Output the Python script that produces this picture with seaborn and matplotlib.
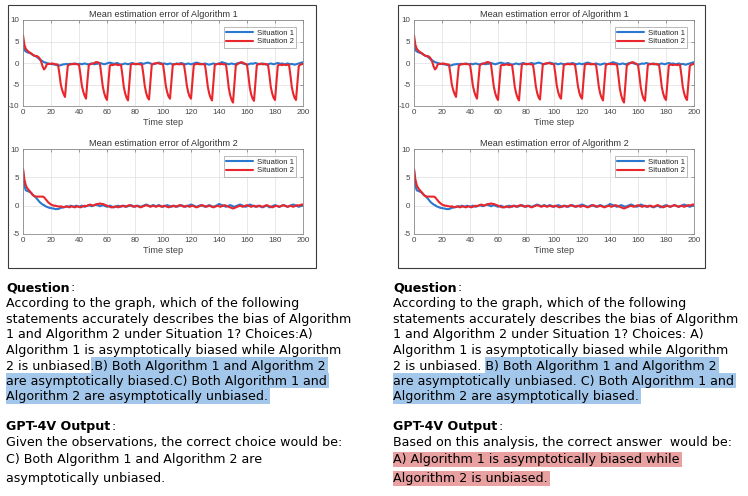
import numpy as np
import pandas as pd
import seaborn as sns
import matplotlib.pyplot as plt
from matplotlib.patches import Rectangle

# time steps of the simulation
steps = list(range(201))

# Algorithm 1, situation 1 (blue)
alg1_sit1 = [
    4.0, 3.0, 2.7, 2.5, 2.4, 2.3, 2.1, 1.9, 1.7, 1.6, 1.4, 1.1, 0.8, 0.6, 0.4, 0.2, 0.1, 0.0, -0.1, -0.2,
    -0.2, -0.3, -0.3, -0.4, -0.5, -0.5, -0.6, -0.5, -0.4, -0.3, -0.3, -0.2, -0.3, -0.2, -0.2, -0.3, -0.2, -0.1, -0.2, -0.3,
    -0.2, -0.2, -0.3, -0.2, -0.1, -0.2, -0.3, -0.3, -0.2, -0.1, -0.2, -0.3, -0.2, -0.2, -0.1, 0.0, -0.1, -0.2, -0.3, -0.2,
    -0.1, 0.0, 0.1, 0.0, -0.1, -0.2, -0.1, 0.0, -0.1, -0.3, -0.4, -0.3, -0.2, -0.1, -0.2, -0.3, -0.2, -0.1, 0.0, -0.1,
    -0.2, -0.3, -0.2, -0.1, 0.0, -0.1, -0.2, -0.1, 0.0, 0.1, 0.0, -0.1, -0.2, -0.3, -0.2, -0.1, 0.0, 0.1, 0.0, -0.1,
    -0.2, -0.1, -0.2, -0.3, -0.2, -0.1, -0.2, -0.3, -0.3, -0.2, -0.1, -0.2, -0.1, 0.0, -0.1, -0.2, -0.3, -0.2, -0.1, -0.2,
    -0.3, -0.2, -0.1, 0.0, 0.1, 0.0, -0.1, -0.2, -0.3, -0.2, -0.1, -0.2, -0.3, -0.4, -0.3, -0.2, -0.1, -0.2, -0.3, -0.2,
    -0.1, 0.0, 0.2, 0.1, 0.0, -0.1, -0.2, -0.3, -0.2, -0.1, -0.2, -0.3, -0.2, -0.1, 0.0, 0.1, 0.0, -0.1, -0.2, -0.3,
    -0.4, -0.3, -0.2, -0.1, -0.2, -0.1, 0.0, -0.1, -0.2, -0.3, -0.2, -0.1, -0.2, -0.3, -0.4, -0.3, -0.2, -0.1, -0.2, -0.3,
    -0.2, -0.1, 0.0, -0.1, -0.2, -0.1, -0.2, -0.3, -0.2, -0.1, -0.2, -0.3, -0.2, -0.3, -0.4, -0.3, -0.2, -0.1, 0.0, 0.1,
    0.2,
]

# Algorithm 1, situation 2 (red) - periodic dips
alg1_sit2 = [
    6.5, 4.2, 3.3, 2.9, 2.6, 2.4, 2.2, 1.9, 1.7, 1.6, 1.6, 1.4, 1.0, 0.3, -0.8, -1.5, -1.1, -0.3, -0.2, -0.2,
    -0.2, -0.1, -0.2, -0.3, -0.3,
    -0.4, -2.5, -5.0, -6.3, -7.2, -7.9, -4.0, -0.6, -0.4, -0.3, -0.2, -0.2, -0.3, -0.2, -0.3,
    -0.4, -2.6, -5.2, -6.6, -7.6, -8.3, -4.2, -0.5, -0.3, -0.2, -0.1, 0.0, 0.2, 0.2, 0.1,
    -0.3, -2.8, -5.5, -7.0, -8.0, -8.6, -4.5, -0.6, -0.4, -0.5, -0.4, -0.3, -0.4, -0.5, -0.4,
    -0.4, -2.8, -5.6, -7.1, -8.1, -8.7, -4.5, -0.4, -0.2, -0.2, -0.3, -0.2, -0.2, -0.3, -0.3,
    -0.4, -2.7, -5.4, -7.0, -8.0, -8.5, -4.3, -0.3, -0.2, -0.1, -0.1, 0.0, -0.1, -0.2, -0.2,
    -0.3, -2.6, -5.3, -6.8, -7.8, -8.3, -4.2, -0.4, -0.3, -0.3, -0.2, -0.3, -0.3, -0.2, -0.3,
    -0.4, -2.6, -5.2, -6.8, -7.8, -8.3, -4.2, -0.4, -0.3, -0.2, -0.2, -0.3, -0.3, -0.2, -0.3,
    -0.4, -2.8, -5.5, -7.1, -8.1, -8.7, -4.5, -0.4, -0.3, -0.2, -0.2, -0.3, -0.2, -0.3, -0.3,
    -0.4, -3.0, -5.9, -7.5, -8.6, -9.2, -4.8, -0.6, -0.3, -0.1, 0.0, 0.2, 0.1, -0.1, -0.2,
    -0.4, -2.9, -5.7, -7.3, -8.3, -8.8, -4.6, -0.5, -0.3, -0.2, -0.2, -0.3, -0.3, -0.2, -0.3,
    -0.4, -2.8, -5.6, -7.1, -8.1, -8.6, -4.5, -0.6, -0.4, -0.4, -0.5, -0.4, -0.4, -0.5, -0.4,
    -0.4, -2.8, -5.6, -7.1, -8.1, -8.6, -4.5, -0.7, -0.4, -0.3, -0.2,
]

# Algorithm 2, situation 1 (blue)
alg2_sit1 = [
    6.3, 3.5, 2.7, 2.6, 2.5, 2.4, 2.2, 1.9, 1.7, 1.5, 1.2, 0.9, 0.6, 0.4, 0.2, 0.1, -0.1, -0.2, -0.3, -0.4,
    -0.4, -0.5, -0.5, -0.6, -0.6, -0.6, -0.5, -0.4, -0.3, -0.3, -0.2, -0.2, -0.1, -0.2, 0.0, -0.1, -0.2, -0.1, 0.0, -0.1,
    -0.2, -0.1, 0.0, -0.1, -0.2, -0.1, 0.0, 0.1, 0.0, -0.1, 0.0, 0.1, 0.2, 0.1, 0.0, -0.1, 0.0, 0.1, 0.0, -0.1,
    -0.2, -0.1, 0.0, -0.1, -0.2, -0.3, -0.2, -0.1, 0.0, -0.1, -0.2, -0.1, 0.0, -0.1, -0.2, -0.1, 0.0, 0.1, 0.0, -0.1,
    -0.2, -0.1, 0.0, -0.1, -0.2, -0.1, 0.0, 0.1, 0.2, 0.1, 0.0, -0.1, 0.0, 0.1, 0.0, -0.1, 0.0, 0.1, 0.0, -0.1,
    -0.2, -0.1, 0.0, 0.1, 0.0, -0.1, -0.2, -0.1, 0.0, -0.1, -0.2, -0.1, 0.0, 0.1, 0.0, -0.1, -0.2, -0.1, 0.0, 0.1,
    0.2, 0.1, 0.0, -0.1, -0.2, -0.1, 0.0, 0.1, 0.0, -0.1, -0.2, -0.1, 0.0, 0.1, 0.0, -0.1, -0.2, -0.1, 0.0, 0.1,
    0.3, 0.2, 0.1, 0.0, -0.1, -0.2, -0.1, 0.0, 0.1, 0.0, -0.1, -0.2, -0.1, 0.0, 0.1, 0.2, 0.1, 0.0, -0.1, -0.2,
    -0.1, 0.0, 0.2, 0.1, 0.0, -0.1, -0.2, -0.1, 0.0, -0.1, -0.2, -0.3, -0.2, -0.1, 0.0, -0.1, -0.3, -0.2, -0.1, 0.0,
    0.1, 0.0, -0.1, -0.2, -0.1, 0.0, 0.1, 0.0, -0.1, -0.2, -0.1, 0.0, 0.1, 0.2, 0.1, 0.0, -0.1, -0.2, -0.1, 0.0,
    0.1,
]

# Algorithm 2, situation 2 (red)
alg2_sit2 = [
    6.5, 4.6, 3.6, 3.1, 2.8, 2.5, 2.2, 1.9, 1.7, 1.6, 1.6, 1.6, 1.6, 1.6, 1.6, 1.5, 1.2, 0.9, 0.6, 0.4,
    0.2, 0.1, 0.0, 0.0, -0.1, -0.1, -0.2, -0.1, -0.2, -0.3, -0.2, -0.1, -0.2, -0.3, -0.2, -0.1, -0.2, -0.3, -0.2, -0.1,
    -0.2, -0.3, -0.2, -0.1, 0.0, -0.1, 0.0, 0.1, 0.2, 0.1, 0.0, 0.1, 0.2, 0.3, 0.3, 0.4, 0.3, 0.3, 0.2, 0.1,
    0.0, -0.1, -0.2, -0.3, -0.3, -0.2, -0.1, -0.2, -0.3, -0.2, -0.1, 0.0, -0.1, -0.2, -0.1, 0.0, 0.1, 0.0, -0.1, -0.2,
    -0.1, 0.0, -0.1, -0.2, -0.3, -0.2, -0.1, 0.0, 0.1, 0.0, -0.1, -0.2, -0.1, 0.0, -0.1, -0.2, -0.1, 0.0, -0.1, -0.2,
    -0.1, 0.0, -0.1, -0.2, -0.3, -0.2, -0.1, 0.0, -0.1, -0.2, -0.1, 0.0, 0.1, 0.0, -0.1, -0.2, -0.1, 0.0, -0.1, -0.2,
    -0.1, 0.0, -0.1, -0.2, -0.3, -0.2, -0.1, 0.0, 0.1, 0.0, -0.1, -0.2, -0.1, 0.0, -0.1, -0.2, -0.3, -0.2, -0.1, 0.0,
    -0.1, -0.2, -0.1, 0.0, 0.1, 0.0, -0.1, -0.2, -0.3, -0.4, -0.5, -0.4, -0.3, -0.2, -0.1, 0.0, -0.1, -0.2, -0.1, 0.0,
    0.1, 0.0, -0.1, -0.2, -0.1, 0.0, -0.1, -0.2, -0.1, 0.0, -0.1, -0.2, -0.1, 0.0, 0.1, 0.0, -0.1, -0.2, -0.3, -0.2,
    -0.1, 0.0, -0.1, -0.2, -0.1, 0.0, 0.1, 0.0, -0.1, -0.2, -0.1, 0.0, -0.1, -0.2, -0.1, 0.0, 0.1, 0.0, 0.1, 0.2,
    0.2,
]

situations = ["Situation 1", "Situation 2"]
titles = ["Mean estimation error of Algorithm 1", "Mean estimation error of Algorithm 2"]

# text of the two panels
left_lines = [
    "According to the graph, which of the following",
    "statements accurately describes the bias of Algorithm",
    "1 and Algorithm 2 under Situation 1? Choices:A)",
    "Algorithm 1 is asymptotically biased while Algorithm",
]
left_hl_pre = "2 is unbiased"
left_hl = [".B) Both Algorithm 1 and Algorithm 2",
           "are asymptotically biased.C) Both Algorithm 1 and",
           "Algorithm 2 are asymptotically unbiased."]
left_out = ["Given the observations, the correct choice would be:",
            "C) Both Algorithm 1 and Algorithm 2 are",
            "asymptotically unbiased."]

right_lines = [
    "According to the graph, which of the following",
    "statements accurately describes the bias of Algorithm",
    "1 and Algorithm 2 under Situation 1? Choices: A)",
    "Algorithm 1 is asymptotically biased while Algorithm",
]
right_hl_pre = "2 is unbiased. "
right_hl = ["B) Both Algorithm 1 and Algorithm 2",
            "are asymptotically unbiased. C) Both Algorithm 1 and",
            "Algorithm 2 are asymptotically biased."]
right_out_first = "Based on this analysis, the correct answer  would be:"
right_out_red = ["A) Algorithm 1 is asymptotically biased while",
                 "Algorithm 2 is unbiased."]

BLUE = "#2a78cf"
RED = "#e8262b"
HL_BLUE = "#a3c7ea"
HL_RED = "#e8a0a1"
W, H = 748, 496
FS = 9.1
CHART_FONT = ["Liberation Sans", "DejaVu Sans"]

sns.set_style("white")
plt.rcParams["font.family"] = ["DejaVu Sans"]
plt.rcParams["axes.unicode_minus"] = False

fig = plt.figure(figsize=(W / 100, H / 100), dpi=100)


def fx(px):
    return px / W


def fy(py):
    return 1 - py / H


def draw_panel(ax, sit1, sit2, title, ylim, yticks):
    df = pd.DataFrame({
        "Time step": steps + steps,
        "error": sit1 + sit2,
        "situation": [situations[0]] * len(steps) + [situations[1]] * len(steps),
    })
    sns.lineplot(data=df, x="Time step", y="error", hue="situation",
                 palette=[BLUE, RED], lw=1.5, ax=ax)
    ax.set_xlim(0, 200)
    ax.set_ylim(*ylim)
    ax.set_xticks(range(0, 201, 20))
    ax.set_yticks(yticks)
    ax.grid(True, color="#e4e4e4", lw=0.6)
    ax.tick_params(direction="in", length=2.5, width=0.5, top=True, right=True,
                   labelsize=5.8, pad=2.5, color="#777777", labelcolor="#444444")
    for s in ax.spines.values():
        s.set_color("#8a8a8a")
        s.set_linewidth(0.6)
    ax.set_title(title, fontsize=6.6, pad=2, color="#333333", family=CHART_FONT)
    ax.set_xlabel("Time step", fontsize=6.6, labelpad=1, color="#444444", family=CHART_FONT)
    ax.set_ylabel("")
    for lab in ax.get_xticklabels() + ax.get_yticklabels():
        lab.set_family(CHART_FONT)
    leg = ax.legend(loc="upper right", frameon=True, fancybox=False,
                    handlelength=3.4, borderpad=0.3, labelspacing=0.15,
                    borderaxespad=0.9, handletextpad=0.5,
                    prop={"family": CHART_FONT, "size": 5.6})
    leg.get_frame().set_edgecolor("#9a9a9a")
    leg.get_frame().set_linewidth(0.6)


def draw_chart(x_axes, box):
    ax1 = fig.add_axes([fx(x_axes), fy(106), fx(280), 86 / H])
    draw_panel(ax1, alg1_sit1, alg1_sit2, titles[0], (-10, 10), [-10, -5, 0, 5, 10])
    ax2 = fig.add_axes([fx(x_axes), fy(234), fx(280), 85 / H])
    draw_panel(ax2, alg2_sit1, alg2_sit2, titles[1], (-5, 10), [-5, 0, 5, 10])
    bx0, by0, bx1, by1 = box
    fig.add_artist(Rectangle((fx(bx0), fy(by1)), fx(bx1 - bx0), (by1 - by0) / H,
                             transform=fig.transFigure, fill=False,
                             ec="#3c3c3c", lw=0.8))


draw_chart(23, (8, 5, 316, 268))
draw_chart(414, (398, 5, 705, 268))

renderer = fig.canvas.get_renderer()


def put(x, yc, s, **kw):
    return fig.text(fx(x), fy(yc + 4), s, fontsize=FS, va="baseline", ha="left",
                    color="black", **kw)


def width(s, **kw):
    t = fig.text(0, 0, s, fontsize=FS, **kw)
    w = t.get_window_extent(renderer).width
    t.remove()
    return w


def heading(x, yc, s):
    put(x, yc, s, weight="bold")
    put(x + width(s, weight="bold") + 1, yc, ":")


def highlight(x0, x1, top, bottom, color):
    fig.add_artist(Rectangle((fx(x0), fy(bottom)), fx(x1 - x0), (bottom - top) / H,
                             transform=fig.transFigure, color=color, lw=0, zorder=-1))


q_rows = [303.3, 318.7, 333.8, 349.6, 365.6, 381.0, 396.4]


def question_block(x, lines, pre, hl):
    heading(x, 287.3, "Question")
    for yc, s in zip(q_rows[:4], lines):
        put(x, yc, s)
    yc = q_rows[4]
    put(x, yc, pre + hl[0])
    if pre.endswith(" "):
        start = x + width(pre + hl[0][0]) - width(hl[0][0]) - 1
    else:
        start = x + width(pre) + 1
    highlight(start, x + width(pre + hl[0]) + 2, yc - 8.5, yc + 7.2, HL_BLUE)
    for i, s in enumerate(hl[1:]):
        yc = q_rows[5 + i]
        put(x, yc, s)
        highlight(x, x + width(s) + 2, yc - 8.5, yc + 7.2, HL_BLUE)
    heading(x, 426, "GPT-4V Output")


question_block(6, left_lines, left_hl_pre, left_hl)
question_block(393.3, right_lines, right_hl_pre, right_hl)

out_rows = [442.3, 459.3, 478.3]
for yc, s in zip(out_rows, left_out):
    put(6, yc, s)

put(393.3, out_rows[0], right_out_first)
for yc, s in zip(out_rows[1:], right_out_red):
    put(393.3, yc, s)
    highlight(393.3, 393.3 + width(s) + 2, yc - 7.3, yc + 7.5, HL_RED)

fig.savefig("out.png", dpi=100)
